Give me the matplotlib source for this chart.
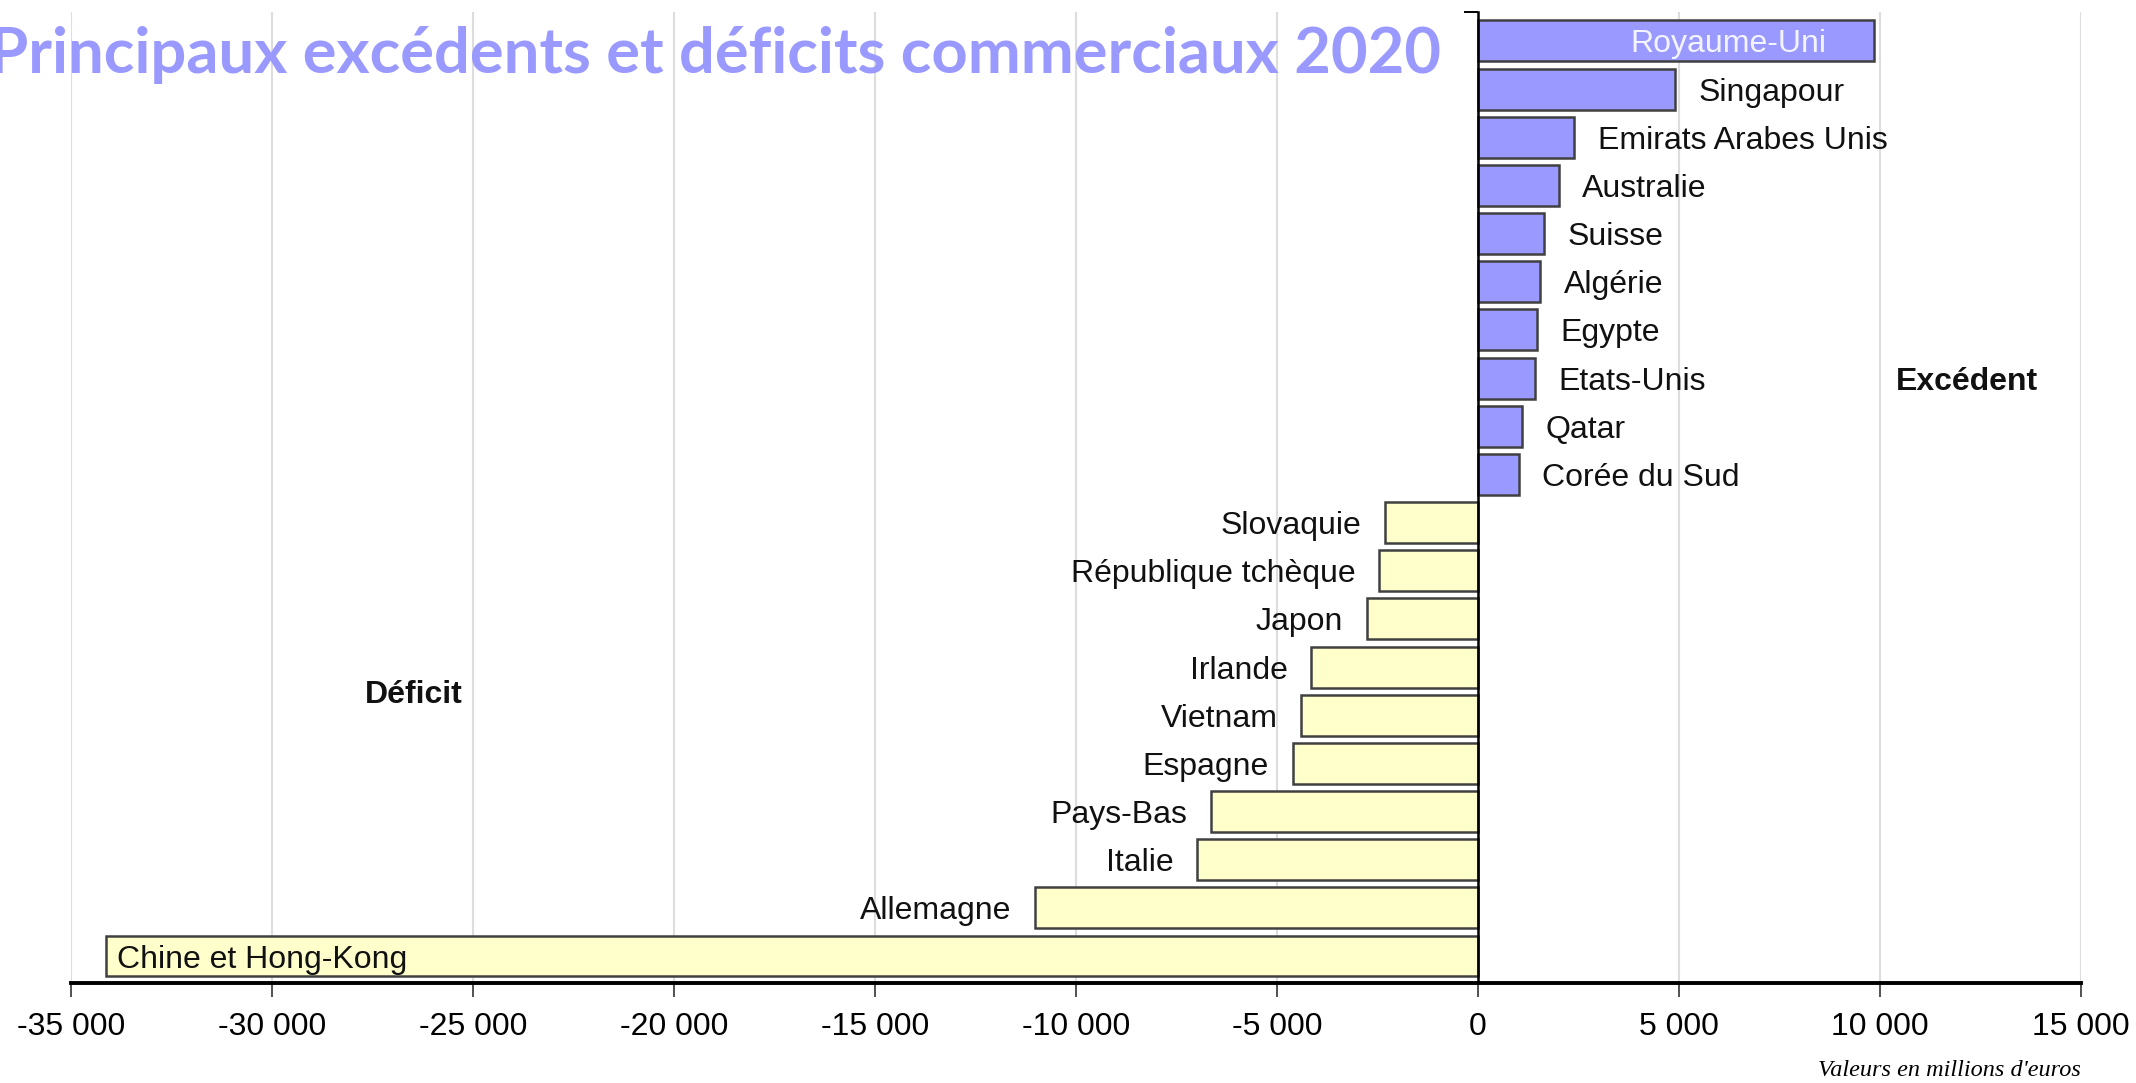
import matplotlib
matplotlib.use('Agg')
import matplotlib.pyplot as plt
import numpy as np

# === Data (millions d'euros), top to bottom ===
pays = ['Royaume-Uni', 'Singapour', 'Emirats Arabes Unis', 'Australie', 'Suisse',
        'Algérie', 'Egypte', 'Etats-Unis', 'Qatar', 'Corée du Sud',
        'Slovaquie', 'République tchèque', 'Japon', 'Irlande', 'Vietnam',
        'Espagne', 'Pays-Bas', 'Italie', 'Allemagne', 'Chine et Hong-Kong']
soldes = [9850, 4900, 2400, 2010, 1640, 1550, 1460, 1410, 1090, 1010,
          -2320, -2460, -2770, -4150, -4400, -4610, -6650, -6980, -11030, -34120]
ticks_x = [-35000, -30000, -25000, -20000, -15000, -10000, -5000, 0, 5000, 10000, 15000]

# === Colors ===
POS_FILL = '#9999FF'
NEG_FILL = '#FFFFCC'
EDGE = '#404040'
GRID = '#DDDDDD'
TITLE_COL = '#9999FF'

plt.rcParams['font.family'] = ['Liberation Sans', 'DejaVu Sans']

W, H = 2136, 1083
fig = plt.figure(figsize=(W / 100, H / 100), dpi=100, facecolor='white')
ax = fig.add_axes([71 / W, 1 - 983 / H, (2081 - 71) / W, (983 - 12) / H])

y = np.arange(len(pays))
vals = np.array(soldes)
colors = [POS_FILL if v > 0 else NEG_FILL for v in vals]
ax.barh(y, vals, height=0.85, color=colors, edgecolor=EDGE, linewidth=1.8, zorder=3)

ax.set_xlim(-35000, 15000)
ax.set_ylim(19.56, -0.6)
ax.set_xticks(ticks_x)
ax.set_xticklabels([f'{t:,}'.replace(',', ' ') for t in ticks_x], fontsize=23)
ax.tick_params(axis='x', length=10, width=1.2, pad=11, color='#333333')
ax.grid(axis='x', color=GRID, linewidth=1.5, zorder=0)
ax.set_axisbelow(True)

# spines: bottom thick, vertical line at zero
for s in ['top', 'right']:
    ax.spines[s].set_visible(False)
ax.spines['left'].set_position(('data', 0))
ax.spines['left'].set_linewidth(1.8)
ax.spines['left'].set_zorder(4)
ax.spines['bottom'].set_linewidth(2.8)
ax.set_yticks([-0.6])
ax.set_yticklabels([''])
ax.tick_params(axis='y', length=10, width=1.4)

# country labels
fs = 23
off = 17  # points
for i, (name, v) in enumerate(zip(pays, vals)):
    if name == 'Royaume-Uni':
        ax.annotate(name, (v, i), xytext=(-34, 0), textcoords='offset points',
                    ha='right', va='center_baseline', fontsize=fs, color='#F4F4FF', zorder=5)
    elif name == 'Chine et Hong-Kong':
        ax.annotate(name, (v, i), xytext=(8, 0), textcoords='offset points',
                    ha='left', va='center_baseline', fontsize=fs, color='#111111', zorder=5)
    elif v > 0:
        ax.annotate(name, (v, i), xytext=(off, 0), textcoords='offset points',
                    ha='left', va='center_baseline', fontsize=fs, color='#111111')
    else:
        ax.annotate(name, (v, i), xytext=(-off, 0), textcoords='offset points',
                    ha='right', va='center_baseline', fontsize=fs, color='#111111')

ax.text(10400, 7, 'Excédent', ha='left', va='center_baseline', fontsize=fs,
        fontweight='bold', color='#111111')
ax.text(-27700, 13.5, 'Déficit', ha='left', va='center_baseline', fontsize=fs,
        fontweight='bold', color='#111111')

fig.text(2081 / W, 1 - 1076 / H, "Valeurs en millions d'euros", ha='right', va='baseline',
         fontsize=17.5, fontstyle='italic', family=['Liberation Serif', 'DejaVu Serif'])

# title, fitted to span the same width as in the source
title = fig.text(1441 / W, 1 - 73 / H, 'Principaux excédents et déficits commerciaux 2020',
                 ha='right', va='baseline', fontsize=44, fontweight='bold',
                 color=TITLE_COL, family=['Lato', 'DejaVu Sans'])
fig.canvas.draw()
w = title.get_window_extent(fig.canvas.get_renderer()).width
title.set_fontsize(44 * 1452 / w)

fig.savefig('out.png', dpi=100, facecolor='white')
